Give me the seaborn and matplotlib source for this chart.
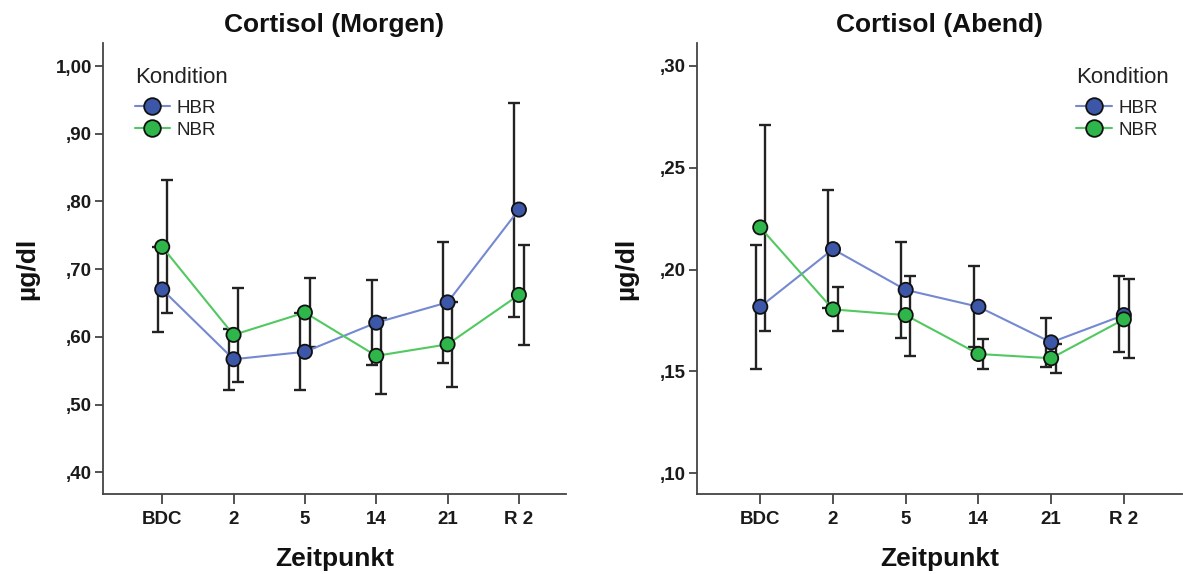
import numpy as np
import pandas as pd
import matplotlib
matplotlib.use("Agg")
import matplotlib.pyplot as plt
from matplotlib.lines import Line2D
from matplotlib.ticker import FuncFormatter, FixedLocator
import seaborn as sns

# ---------------- data ----------------
categories = ["BDC", "2", "5", "14", "21", "R 2"]
groups = ["HBR", "NBR"]

morning_hbr = [0.670, 0.567, 0.578, 0.621, 0.651, 0.788]
morning_hbr_lo = [0.607, 0.522, 0.521, 0.558, 0.561, 0.629]
morning_hbr_hi = [0.733, 0.612, 0.635, 0.684, 0.740, 0.946]
morning_nbr = [0.733, 0.603, 0.636, 0.572, 0.589, 0.662]
morning_nbr_lo = [0.635, 0.534, 0.585, 0.516, 0.526, 0.588]
morning_nbr_hi = [0.831, 0.672, 0.687, 0.628, 0.652, 0.736]

evening_hbr = [0.1817, 0.210, 0.190, 0.1817, 0.1642, 0.1776]
evening_hbr_lo = [0.151, 0.181, 0.1662, 0.1617, 0.152, 0.1596]
evening_hbr_hi = [0.212, 0.239, 0.2137, 0.2017, 0.176, 0.1968]
evening_nbr = [0.2207, 0.1804, 0.1776, 0.1585, 0.1564, 0.1755]
evening_nbr_lo = [0.170, 0.170, 0.1576, 0.1511, 0.1493, 0.1565]
evening_nbr_hi = [0.271, 0.1912, 0.197, 0.1657, 0.1635, 0.1952]

morning_ticks = [0.40, 0.50, 0.60, 0.70, 0.80, 0.90, 1.00]
evening_ticks = [0.10, 0.15, 0.20, 0.25, 0.30]

titles = ["Cortisol (Morgen)", "Cortisol (Abend)"]
xlabel = "Zeitpunkt"
ylabel = "µg/dl"
legend_title = "Kondition"

# ---------------- style ----------------
sns.set_style("white")
plt.rcParams["font.family"] = ["Liberation Sans", "DejaVu Sans"]

line_colors = {"HBR": "#7489d0", "NBR": "#52c860"}
fill_colors = {"HBR": "#3d57a8", "NBR": "#2fb64a"}
err_offset = {"HBR": -0.065, "NBR": 0.065}


def build_frame(hbr, hbr_lo, hbr_hi, nbr, nbr_lo, nbr_hi):
    rows = []
    for g, m, lo, hi in (("HBR", hbr, hbr_lo, hbr_hi), ("NBR", nbr, nbr_lo, nbr_hi)):
        for i, c in enumerate(categories):
            rows.append({"Zeitpunkt": c, "pos": i, "Kondition": g,
                         "value": m[i], "lo": lo[i], "hi": hi[i]})
    return pd.DataFrame(rows)


def comma_fmt(v, _):
    s = f"{v:.2f}".replace(".", ",")
    if s.startswith("0,"):
        s = s[1:]
    return s


W, H = 1183, 574
fig = plt.figure(figsize=(W / 100, H / 100), dpi=100)

panels = [
    dict(df=build_frame(morning_hbr, morning_hbr_lo, morning_hbr_hi,
                        morning_nbr, morning_nbr_lo, morning_nbr_hi),
         rect=[103 / W, (H - 494) / H, 463 / W, 451 / H],
         ylim=(0.368, 1.034), xlim=(-0.83, 5.66), ticks=morning_ticks,
         title=titles[0], ylab_x=-0.138,
         leg=dict(loc="upper left", bbox_to_anchor=(0.04, 0.975))),
    dict(df=build_frame(evening_hbr, evening_hbr_lo, evening_hbr_hi,
                        evening_nbr, evening_nbr_lo, evening_nbr_hi),
         rect=[697 / W, (H - 494) / H, 485 / W, 451 / H],
         ylim=(0.0897, 0.3113), xlim=(-0.87, 5.8), ticks=evening_ticks,
         title=titles[1], ylab_x=-0.122,
         leg=dict(loc="upper right", bbox_to_anchor=(1.0, 0.975))),
]

for p in panels:
    ax = fig.add_axes(p["rect"])
    df = p["df"]

    # error bars (slightly dodged)
    for g in groups:
        sub = df[df["Kondition"] == g]
        ax.errorbar(sub["pos"] + err_offset[g], sub["value"],
                    yerr=[sub["value"] - sub["lo"], sub["hi"] - sub["value"]],
                    fmt="none", ecolor="#222222", elinewidth=1.7,
                    capsize=4, capthick=1.7, zorder=2)

    sns.lineplot(data=df, x="pos", y="value", hue="Kondition",
                 palette=line_colors, hue_order=groups, linewidth=1.5,
                 legend=False, ax=ax, zorder=3, sort=False)
    sns.scatterplot(data=df, x="pos", y="value", hue="Kondition",
                    palette=fill_colors, hue_order=groups, s=105,
                    edgecolor="#111111", linewidth=1.3, legend=False,
                    ax=ax, zorder=4)

    ax.set_xlim(*p["xlim"])
    ax.set_ylim(*p["ylim"])
    ax.xaxis.set_major_locator(FixedLocator(range(len(categories))))
    ax.set_xticklabels(categories)
    ax.yaxis.set_major_locator(FixedLocator(p["ticks"]))
    ax.yaxis.set_major_formatter(FuncFormatter(comma_fmt))

    for side in ("top", "right"):
        ax.spines[side].set_visible(False)
    for side in ("left", "bottom"):
        ax.spines[side].set_color("#444444")
        ax.spines[side].set_linewidth(1.3)
    ax.tick_params(axis="both", direction="out", width=1.3,
                   color="#444444", labelsize=13.5,
                   left=True, bottom=True)
    ax.tick_params(axis="x", length=7, pad=5)
    ax.tick_params(axis="y", length=6, pad=2)
    for lab in ax.get_xticklabels() + ax.get_yticklabels():
        lab.set_fontweight("bold")
        lab.set_color("#1a1a1a")

    ax.set_xlabel(xlabel, fontsize=19, fontweight="bold", color="#111111")
    ax.set_ylabel(ylabel, fontsize=19, fontweight="bold", color="#111111")
    ax.xaxis.set_label_coords(0.5, -0.118)
    ax.yaxis.set_label_coords(p["ylab_x"], 0.5)
    ax.set_title(p["title"], fontsize=19, fontweight="bold",
                 color="#111111", pad=8)

    handles = [Line2D([0], [0], color=line_colors[g], linewidth=1.5,
                      marker="o", markersize=12,
                      markerfacecolor=fill_colors[g],
                      markeredgecolor="#111111", markeredgewidth=1.3)
               for g in groups]
    leg = ax.legend(handles, groups, title=legend_title, frameon=False,
                    fontsize=13.5, title_fontsize=16, handlelength=1.9,
                    handletextpad=0.35, labelspacing=0.28,
                    borderpad=0.2, alignment="left", **p["leg"])
    leg._legend_box.sep = 8
    for t in leg.get_texts():
        t.set_color("#222222")
    leg.get_title().set_color("#222222")

fig.savefig("out.png", dpi=100)
